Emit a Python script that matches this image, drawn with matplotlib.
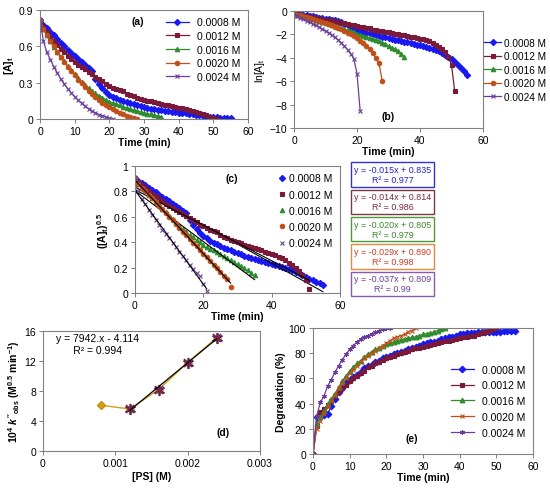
import numpy as np
import matplotlib
matplotlib.use("Agg")
import matplotlib.pyplot as plt

plt.rcParams['font.family'] = ['Liberation Sans', 'DejaVu Sans']
plt.rcParams['font.size'] = 7.5
plt.rcParams['mathtext.fontset'] = 'custom'
plt.rcParams['mathtext.rm'] = 'Liberation Sans'
plt.rcParams['mathtext.it'] = 'Liberation Sans:italic:bold'
plt.rcParams['mathtext.bf'] = 'Liberation Sans:bold'
plt.rcParams['mathtext.default'] = 'regular'

# Data
labels = ["0.0008 M", "0.0012 M", "0.0016 M", "0.0020 M", "0.0024 M"]

# [A]t, one value per minute
a_0008 = [0.82, 0.78, 0.75, 0.72, 0.69, 0.66, 0.63, 0.60, 0.57, 0.545, 0.52, 0.495, 0.47, 0.445,
          0.42, 0.395, 0.33, 0.29, 0.255, 0.225, 0.20, 0.185, 0.17, 0.158, 0.147, 0.137, 0.128,
          0.12, 0.112, 0.105, 0.098, 0.092, 0.086, 0.081, 0.076, 0.072, 0.068, 0.064, 0.06,
          0.056, 0.053, 0.049, 0.046, 0.043, 0.04, 0.036, 0.032, 0.028, 0.024, 0.02, 0.016,
          0.013, 0.01, 0.0078, 0.006, 0.0042]
a_0012 = [0.82, 0.76, 0.72, 0.68, 0.645, 0.61, 0.58, 0.55, 0.52, 0.495, 0.47, 0.45, 0.43, 0.41,
          0.39, 0.37, 0.35, 0.33, 0.31, 0.29, 0.275, 0.26, 0.25, 0.24, 0.228, 0.205, 0.195,
          0.186, 0.177, 0.168, 0.16, 0.152, 0.145, 0.138, 0.131, 0.124, 0.118, 0.112, 0.106,
          0.10, 0.094, 0.088, 0.082, 0.075, 0.066, 0.056, 0.047, 0.038, 0.029, 0.019, 0.010,
          0.0011]
a_0016 = [0.82, 0.74, 0.69, 0.64, 0.593, 0.555, 0.511, 0.476, 0.436, 0.403, 0.372, 0.342, 0.308,
          0.281, 0.255, 0.23, 0.212, 0.194, 0.176, 0.16, 0.144, 0.133, 0.1225, 0.112, 0.102,
          0.093, 0.084, 0.0756, 0.0676, 0.06, 0.0506, 0.0441, 0.038, 0.0324, 0.0256, 0.0196]
a_0020 = [0.82, 0.74, 0.69, 0.645, 0.6, 0.555, 0.513, 0.472, 0.433, 0.396, 0.36, 0.326, 0.294,
          0.263, 0.234, 0.207, 0.181, 0.158, 0.135, 0.115, 0.096, 0.079, 0.064, 0.05, 0.038,
          0.027, 0.0185, 0.0114, 0.0025]
a_0024 = [0.82, 0.64, 0.55, 0.49, 0.43, 0.38, 0.33, 0.29, 0.25, 0.215, 0.185, 0.155, 0.13,
          0.105, 0.085, 0.066, 0.05, 0.037, 0.026, 0.017, 0.0047, 0.0002]
conc_a = [a_0008, a_0012, a_0016, a_0020, a_0024]

# linear fits of ([A]t)^0.5 shown in panel (c)
fit_slope = [-0.015, -0.014, -0.020, -0.029, -0.037]
fit_icpt = [0.835, 0.814, 0.805, 0.890, 0.809]
fit_r2 = ["0.977", "0.986", "0.979", "0.998", "0.99"]

# panel (d)
ps = [0.0008, 0.0012, 0.0016, 0.0020, 0.0024]
k_obs = [6.1, 5.6, 8.2, 11.8, 15.1]
d_slope, d_icpt = 7942, -4.114

# degradation (%)
deg_0008 = [0, 29, 30, 31, 32, 38, 44, 49, 52, 56, 59, 61, 63, 65, 68, 70, 71, 73, 74, 76, 77,
            78, 79, 80, 81, 82, 83, 84, 85, 86, 87, 88, 88.5, 89, 90, 91, 92, 92.5, 93, 94, 95,
            95.5, 96, 96, 96, 96.5, 96.5, 97, 97, 97, 97, 97, 97.5, 97.5, 97.5, 98]
deg_0012 = [0, 22, 33, 36, 39, 42, 46, 49, 52, 55, 58, 60, 62, 64, 66, 69, 70, 72, 73, 75, 76,
            77, 78, 79, 80, 81, 82, 83, 84, 84.5, 85, 86, 86.5, 87, 88, 89, 89.5, 90, 90.5, 91,
            92, 92.5, 93, 93.5, 94, 95, 96, 97, 98, 99, 100]
deg_0016 = [0, 24, 29, 34, 40, 44, 48, 53, 58, 62, 66, 69, 72, 74, 77, 79, 81, 83, 84, 86, 87,
            88, 89, 90, 90.5, 91, 92, 92.5, 93, 94, 95, 95.5, 96, 97, 98, 99, 100]
deg_0020 = [0, 20, 26, 32, 37, 42, 47, 52, 56, 60, 64, 67, 70, 73, 76, 78, 80, 82, 84, 86, 88,
            90, 92, 93, 94, 95, 97, 98, 100]
deg_0024 = [0, 30, 41, 46, 54, 59, 65, 70, 75, 79, 83, 86, 89, 91, 93, 94, 95, 96.5, 98, 99,
            100, 100]
conc_deg = [deg_0008, deg_0012, deg_0016, deg_0020, deg_0024]

colors = ['#1818F0', '#7A1A3A', '#2E8B2E', '#C0501A', '#6A3D9A']
mk_abc = ['D', 's', '^', 'o', 'x']
mk_e = ['D', 's', '^', 'x', (6, 2, 0)]
box_edge = ['#3333CC', '#7A3A4A', '#4C9A3C', '#E08A40', '#8A5AB0']
box_text = ['#2222CC', '#7A2A3A', '#3A8A2A', '#D03A20', '#6A3D9A']

fig = plt.figure(figsize=(5.5, 4.89), dpi=100)


def px_axes(l, t, r, b):
    return fig.add_axes([l / 550, 1 - b / 489, (r - l) / 550, (b - t) / 489])


def style(ax):
    for s in ax.spines.values():
        s.set_color('#808080')
        s.set_linewidth(0.8)
    ax.tick_params(direction='out', length=3, width=0.7, color='#808080', labelsize=7.5, pad=2)


# (a)
ax = px_axes(40, 11, 248, 120)
for y, c, m, lab in zip(conc_a, colors, mk_abc, labels):
    t = np.arange(len(y))
    ax.plot(t, y, color=c, marker=m, ms=3.2, lw=0.9, mew=0.8, label=lab)
ax.set_xlim(0, 60)
ax.set_ylim(0, 0.9)
ax.set_xticks(range(0, 61, 10))
ax.set_yticks([0, 0.3, 0.6, 0.9])
ax.set_yticklabels(['0', '0.3', '0.6', '0.9'])
ax.set_ylabel('[A]$_t$', fontweight='bold', labelpad=2)
ax.set_xlabel('Time (min)', fontweight='bold', labelpad=1)
ax.text(0.47, 0.87, '(a)', transform=ax.transAxes, fontweight='bold', ha='center')
ax.legend(loc='upper right', frameon=False, fontsize=7.5, handlelength=2.2,
          borderaxespad=0.3, labelspacing=0.35)
style(ax)

# (b)
ax = px_axes(294, 12, 483, 129)
for y, c, m, lab in zip(conc_a, colors, mk_abc, labels):
    t = np.arange(len(y))
    ax.plot(t, np.log(y), color=c, marker=m, ms=3.2, lw=0.9, mew=0.8, label=lab)
ax.set_xlim(0, 60)
ax.set_ylim(-10, 0)
ax.set_xticks([0, 20, 40, 60])
ax.set_yticks(range(-10, 1, 2))
ax.set_ylabel('ln[A]$_t$', labelpad=2)
ax.set_xlabel('Time (min)', fontweight='bold', labelpad=1)
ax.text(0.5, 0.08, '(b)', transform=ax.transAxes, fontweight='bold', ha='center')
ax.legend(loc='center left', bbox_to_anchor=(1.0, 0.5), frameon=False, fontsize=7.2,
          handlelength=1.7, handletextpad=0.3, borderaxespad=0.0, borderpad=0.1,
          labelspacing=0.35)
style(ax)

# (c)
ax = px_axes(135, 167, 340, 294)
for y, c, m, lab, k, b in zip(conc_a, colors, mk_abc, labels, fit_slope, fit_icpt):
    t = np.arange(len(y))
    ax.plot(t, np.sqrt(y), color=c, marker=m, ms=3.2, lw=0, mew=0.8, label=lab)
    tf = np.array([0, t[-1]])
    ax.plot(tf, k * tf + b, color='black', lw=0.8)
ax.set_xlim(0, 60)
ax.set_ylim(0, 1)
ax.set_xticks([0, 20, 40, 60])
ax.set_yticks([0, 0.2, 0.4, 0.6, 0.8, 1])
ax.set_yticklabels(['0', '0.2', '0.4', '0.6', '0.8', '1'])
ax.set_ylabel('([A]$_t$)$^{0.5}$', fontweight='bold', labelpad=2)
ax.set_xlabel('Time (min)', fontweight='bold', labelpad=1)
ax.text(0.47, 0.88, '(c)', transform=ax.transAxes, fontweight='bold', ha='center')
ax.legend(loc='upper right', frameon=False, fontsize=7.5, handlelength=0.8,
          handletextpad=0.3, borderaxespad=0.3, labelspacing=0.6)
style(ax)

for i, (k, b, r2) in enumerate(zip(fit_slope, fit_icpt, fit_r2)):
    yc = 175.5 + i * 27.3
    fig.text(392.5 / 550, 1 - yc / 489, 'y = %.3fx + %.3f\nR\u00b2 = %s' % (k, b, r2),
             ha='center', va='center', fontsize=6.4, color=box_text[i], linespacing=1.15,
             bbox=dict(boxstyle='square,pad=0.3', fc='white', ec=box_edge[i], lw=1))

# (d)
ax = px_axes(43, 332, 260, 452)
ax.plot(ps, k_obs, color='#D4A017', marker='D', ms=4, lw=1, mec='#C89010')
ax.plot(ps[1:], k_obs[1:], lw=0, marker=(6, 2, 0), ms=8, mew=1.2, color='#4B2A6A')
ax.plot(ps[1:], k_obs[1:], lw=0, marker='x', ms=6, mew=1.2, color='#8B2040')
xf = np.array([ps[1], ps[-1]])
ax.plot(xf, d_slope * xf + d_icpt, color='black', lw=0.9)
ax.set_xlim(0, 0.003)
ax.set_ylim(0, 16)
ax.set_xticks([0, 0.001, 0.002, 0.003])
ax.set_xticklabels(['0', '0.001', '0.002', '0.003'])
ax.set_yticks([0, 4, 8, 12, 16])
ax.set_ylabel("10$^{4}$ $\\mathit{k}''_{obs}$ (M$^{0.5}$ min$^{-1}$)", fontweight='bold',
              labelpad=2)
ax.set_xlabel('[PS] (M)', fontweight='bold', labelpad=2)
ax.text(0.06, 0.82, 'y = 7942.x - 4.114\n      R\u00b2 = 0.994', transform=ax.transAxes,
        fontsize=7.5, linespacing=1.2)
ax.text(0.83, 0.13, '(d)', transform=ax.transAxes, fontweight='bold', ha='center')
style(ax)

# (e)
ax = px_axes(313, 329, 533, 455)
for y, c, m, lab in zip(conc_deg, colors, mk_e, labels):
    t = np.arange(len(y))
    ax.plot(t, y, color=c, marker=m, ms=3.4, lw=0.9, mew=0.8, label=lab)
ax.set_xlim(0, 60)
ax.set_ylim(0, 100)
ax.set_xticks(range(0, 61, 10))
ax.set_yticks(range(0, 101, 20))
ax.set_ylabel('Degradation (%)', fontweight='bold', labelpad=2)
ax.set_xlabel('Time (min)', fontweight='bold', labelpad=1)
ax.text(0.45, 0.1, '(e)', transform=ax.transAxes, fontweight='bold', ha='center')
ax.legend(loc='center right', bbox_to_anchor=(1.0, 0.42), frameon=False, fontsize=7.5,
          handlelength=2.2, borderaxespad=0.3, labelspacing=0.55)
style(ax)

fig.savefig('out.png', dpi=100)
